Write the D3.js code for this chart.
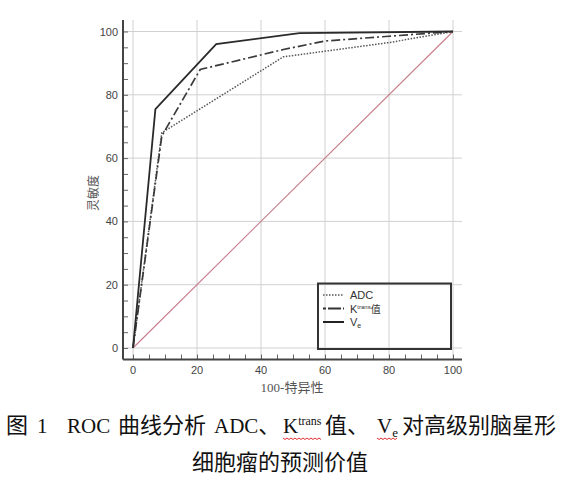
<!DOCTYPE html>
<html><head><meta charset="utf-8">
<script src="https://cdn.jsdelivr.net/npm/d3@7"></script>
<style>body{margin:0;background:#fff;} svg{display:block;}</style>
</head><body>
<script>
// ---- data ----
const xTicks = [0, 20, 40, 60, 80, 100];
const yTicks = [0, 20, 40, 60, 80, 100];
const adcX = [0, 9, 47, 80, 100];
const adcY = [0, 68, 92, 96.5, 100];
const ktX = [0, 9, 21, 47, 60, 80, 100];
const ktY = [0, 67, 88, 94.3, 97, 98.5, 100];
const veX = [0, 7, 26, 52, 100];
const veY = [0, 75.5, 96, 99.5, 100];
const refX = [0, 100];
const refY = [0, 100];
const legendLabels = ["ADC", "K", "V"];
const xLabel = "100-特异性";
const yLabel = "灵敏度";

const W = 563, H = 482;
const svg = d3.select("body").append("svg").attr("width", W).attr("height", H);
const x = d3.scaleLinear().domain([0, 100]).range([133, 453]);
const y = d3.scaleLinear().domain([0, 100]).range([348, 31.5]);
const xMin = x.invert(123), xMax = x.invert(462);
const yMin = y.invert(359.5), yMax = y.invert(20);

// grid
const g = svg.append("g");
g.selectAll(".gx").data(xTicks).join("line")
  .attr("x1", d => x(d)).attr("x2", d => x(d))
  .attr("y1", y(yMax)).attr("y2", y(yMin))
  .attr("stroke", "#d0d0d0").attr("stroke-width", 1);
g.selectAll(".gy").data(yTicks).join("line")
  .attr("y1", d => y(d)).attr("y2", d => y(d))
  .attr("x1", x(xMin)).attr("x2", x(xMax))
  .attr("stroke", "#d0d0d0").attr("stroke-width", 1);

// axes (inward ticks)
const minor = d3.range(0, 101, 5);
const yAxis = d3.axisRight(y).tickValues(minor).tickSize(5).tickFormat("");
const ya = svg.append("g").attr("transform", `translate(${x(xMin)},0)`).call(yAxis);
ya.select(".domain").remove();
ya.selectAll("line").attr("stroke", "#666");
const xAxis = d3.axisTop(x).tickValues(minor).tickSize(5).tickFormat("");
const xa = svg.append("g").attr("transform", `translate(0,${y(yMin)})`).call(xAxis);
xa.select(".domain").remove();
xa.selectAll("line").attr("stroke", "#666");

// spines
svg.append("line").attr("x1", x(xMin)).attr("x2", x(xMin)).attr("y1", y(yMax)).attr("y2", y(yMin))
  .attr("stroke", "#444").attr("stroke-width", 2);
svg.append("line").attr("x1", x(xMin)).attr("x2", x(xMax)).attr("y1", y(yMin)).attr("y2", y(yMin))
  .attr("stroke", "#444").attr("stroke-width", 2);

// tick labels
svg.selectAll(".ylab").data(yTicks).join("text")
  .attr("x", 118).attr("y", d => y(d) + 4)
  .attr("text-anchor", "end").attr("font-family", "Liberation Sans, Arial, sans-serif")
  .attr("font-size", 11).attr("fill", "#444").text(d => d);
svg.selectAll(".xlab").data(xTicks).join("text")
  .attr("x", d => x(d)).attr("y", 374)
  .attr("text-anchor", "middle").attr("font-family", "Liberation Sans, Arial, sans-serif")
  .attr("font-size", 11).attr("fill", "#444").text(d => d);

// axis titles
svg.append("text").attr("x", 292).attr("y", 392).attr("text-anchor", "middle")
  .attr("font-family", "Liberation Serif, Noto Sans CJK SC, serif").attr("font-size", 13)
  .attr("fill", "#555").text(xLabel);
svg.append("text").attr("transform", "translate(98,193) rotate(-90)").attr("text-anchor", "middle")
  .attr("font-family", "Noto Sans CJK SC, sans-serif").attr("font-size", 12)
  .attr("fill", "#555").text(yLabel);

// lines
const line = d3.line().x(d => x(d[0])).y(d => y(d[1]));
const zip = (a, b) => a.map((v, i) => [v, b[i]]);
svg.append("path").attr("d", line(zip(refX, refY))).attr("fill", "none")
  .attr("stroke", "#c77d8b").attr("stroke-width", 1.1);
svg.append("path").attr("d", line(zip(adcX, adcY))).attr("fill", "none")
  .attr("stroke", "#555").attr("stroke-width", 1.5).attr("stroke-dasharray", "1.5,1.5");
svg.append("path").attr("d", line(zip(ktX, ktY))).attr("fill", "none")
  .attr("stroke", "#3a3a3a").attr("stroke-width", 1.7).attr("stroke-dasharray", "9,3,2,3");
svg.append("path").attr("d", line(zip(veX, veY))).attr("fill", "none")
  .attr("stroke", "#2a2a2a").attr("stroke-width", 1.8);

// legend
svg.append("rect").attr("x", 318).attr("y", 283.5).attr("width", 133).attr("height", 65.5)
  .attr("fill", "none").attr("stroke", "#333").attr("stroke-width", 2);
const styles = [
  {dash: "1.5,1.5", w: 1.6, c: "#555"},
  {dash: "3,2,10,0", w: 1.8, c: "#333"},
  {dash: null, w: 2, c: "#222"}
];
legendLabels.forEach((lab, i) => {
  const yy = 295 + i * 13.5;
  const l = svg.append("line").attr("x1", 323).attr("x2", 344).attr("y1", yy).attr("y2", yy)
    .attr("stroke", styles[i].c).attr("stroke-width", styles[i].w);
  if (styles[i].dash) l.attr("stroke-dasharray", styles[i].dash);
  const t = svg.append("text").attr("x", 350).attr("y", yy + 4)
    .attr("font-family", "Liberation Sans, Arial, sans-serif").attr("font-size", 11).attr("fill", "#333");
  t.append("tspan").text(lab);
  if (i === 1) {
    t.append("tspan").attr("dy", -4).attr("font-size", 6).text("trans");
    t.append("tspan").attr("dy", 4).attr("font-family", "Noto Sans CJK SC").attr("font-size", 10).text("值");
  }
  if (i === 2) {
    t.append("tspan").attr("dy", 2).attr("font-size", 7).text("e");
  }
});

// caption
const cjk = "Noto Sans CJK SC";
const cap = svg.append("text").attr("y", 433).attr("font-family", "Liberation Serif, Noto Sans CJK SC, serif")
  .attr("font-size", 21).attr("fill", "#111");
cap.append("tspan").attr("x", 6).attr("font-family", cjk).attr("font-size", 22).text("图");
cap.append("tspan").attr("x", 37).text("1");
cap.append("tspan").attr("x", 67).text("ROC");
cap.append("tspan").attr("x", 118).attr("font-family", cjk).attr("font-size", 22).text("曲线分析");
cap.append("tspan").attr("x", 214).text("ADC");
cap.append("tspan").attr("font-family", cjk).attr("font-size", 22).text("、");
cap.append("tspan").attr("x", 283).text("K");
cap.append("tspan").attr("dy", -8).attr("font-size", 12).text("trans");
cap.append("tspan").attr("x", 325).attr("dy", 8).attr("font-family", cjk).attr("font-size", 22).text("值、");
cap.append("tspan").attr("x", 377).text("V");
cap.append("tspan").attr("dy", 4).attr("font-size", 13).text("e");
cap.append("tspan").attr("x", 402).attr("dy", -4).attr("font-family", cjk).attr("font-size", 22).text("对高级别脑星形");
svg.append("text").attr("x", 280).attr("y", 470).attr("text-anchor", "middle")
  .attr("font-family", cjk).attr("font-size", 22).attr("fill", "#111").text("细胞瘤的预测价值");

// spell-check wavy underlines
function wavy(x0, x1, yy) {
  const pts = [];
  for (let xx = x0, k = 0; xx <= x1; xx += 2, k++) pts.push([xx, yy + (k % 2 ? 1.5 : 0)]);
  return d3.line()(pts);
}
svg.append("path").attr("d", wavy(283, 322, 438)).attr("fill", "none").attr("stroke", "#e03030").attr("stroke-width", 1);
svg.append("path").attr("d", wavy(377, 397, 438)).attr("fill", "none").attr("stroke", "#e03030").attr("stroke-width", 1);
</script>
</body></html>
